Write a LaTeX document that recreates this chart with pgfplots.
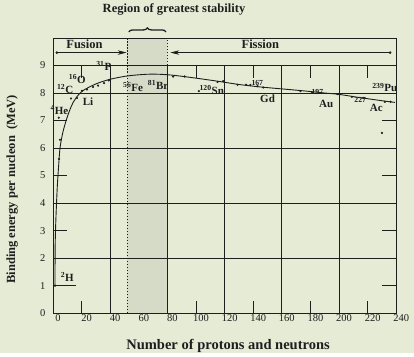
\documentclass[border=0pt]{standalone}
\usepackage{fontspec}
\setmainfont{Liberation Serif}
\usepackage{pgfplots}
\pgfplotsset{compat=1.18}
\usetikzlibrary{arrows.meta,decorations.pathreplacing}
\definecolor{bgc}{RGB}{230,235,214}
\definecolor{shadec}{RGB}{214,219,200}
\definecolor{ink}{RGB}{30,30,30}
\newcommand{\bl}{\bfseries\fontsize{12.5}{13}\selectfont}
\newcommand{\an}{\bfseries\fontsize{11}{12}\selectfont}
\begin{document}
\begin{tikzpicture}
\begin{axis}[
  width=343pt, height=275pt, scale only axis,
  xmin=0, xmax=240, ymin=0, ymax=10,
  clip=false, axis on top,
  axis line style={ink, line width=0.9pt},
  xtick={0,20,...,240}, ytick={0,1,...,9},
  major tick length=0pt,
  tick label style={font=\fontsize{10.5}{11}\selectfont, text=ink},
  /pgf/number format/assume math mode=true,
  xticklabel style={xshift=5pt, yshift=2pt},
  yticklabel style={xshift=-4pt},
]
% background and fixed picture size
\fill[bgc] (axis cs:-37.06,-1.455) rectangle (axis cs:252.4,11.38);
% shaded stability region
\fill[shadec] (axis cs:52,0) rectangle (axis cs:80,10);
% grid lines
\draw[ink, line width=0.8pt]
  (axis cs:0,2) -- (axis cs:240,2)
  (axis cs:0,4) -- (axis cs:240,4)
  (axis cs:0,6) -- (axis cs:240,6)
  (axis cs:0,8) -- (axis cs:240,8)
  (axis cs:0,9) -- (axis cs:240,9)
  (axis cs:40,0) -- (axis cs:40,9)
  (axis cs:80,0) -- (axis cs:80,9)
  (axis cs:120,0) -- (axis cs:120,9)
  (axis cs:160,0) -- (axis cs:160,9)
  (axis cs:200,0) -- (axis cs:200,9);
% short inner ticks
\draw[ink, line width=0.7pt]
  (axis cs:0,1) -- (axis cs:16,1)
  (axis cs:0,3) -- (axis cs:10,3)
  (axis cs:0,5) -- (axis cs:10,5)
  (axis cs:0,7) -- (axis cs:10,7)
  (axis cs:230,1) -- (axis cs:240,1)
  (axis cs:230,3) -- (axis cs:240,3)
  (axis cs:230,5) -- (axis cs:240,5)
  (axis cs:230,7) -- (axis cs:240,7)
  (axis cs:20,0) -- (axis cs:20,0.45)
  (axis cs:100,0) -- (axis cs:100,0.45)
  (axis cs:140,0) -- (axis cs:140,0.45)
  (axis cs:180,0) -- (axis cs:180,0.45)
  (axis cs:220,0) -- (axis cs:220,0.45)
  (axis cs:20,9) -- (axis cs:20,8.55)
  (axis cs:100,9) -- (axis cs:100,8.55)
  (axis cs:140,9) -- (axis cs:140,8.55)
  (axis cs:180,9) -- (axis cs:180,8.55)
  (axis cs:220,9) -- (axis cs:220,8.55);
% dotted boundaries
\draw[ink, line width=1.1pt, dash pattern=on 1.5pt off 1.5pt] (axis cs:52,0) -- (axis cs:52,10);
\draw[ink, line width=1.1pt, dash pattern=on 1.5pt off 1.5pt] (axis cs:80,9) -- (axis cs:80,10);
% binding energy curve
\addplot[ink, line width=0.9pt, smooth, tension=0.5] coordinates {
 (1.4,1.0) (1.5,2.4) (2.0,3.4) (3.0,4.6) (4.0,5.4) (4.9,6.0) (6.8,6.55)
 (9.8,7.1) (14,7.65) (20,8.05) (30,8.33) (40,8.5) (52,8.62) (65,8.68)
 (75,8.68) (85,8.64) (100,8.54) (115,8.43) (130,8.31) (145,8.22)
 (160,8.15) (175,8.08) (190,8.0) (200,7.95) (215,7.83) (230,7.72) (239,7.66)
};
% data points
\addplot[only marks, mark=*, mark size=0.9pt, ink] coordinates {
 (1.4,1.0) (4.2,5.6) (4.9,6.3) (4.0,7.1) (12.6,7.8) (16.8,7.82) (20.3,8.08)
 (23.8,8.13) (28,8.22) (31.5,8.27) (35.7,8.36) (39,8.46) (84,8.6) (92,8.6)
 (102,8.07) (115,8.4) (119,8.43) (129,8.3) (135,8.3) (138,8.29) (143,8.25)
 (147,8.2) (173,8.07) (181,8.03) (199,7.96) (209,7.86) (217,7.82)
 (232,7.68) (236,7.68) (230,6.55)
};
% fusion / fission arrows
\addplot[only marks, mark=*, mark size=1.1pt, ink] coordinates {(2.7,9.47) (235.7,9.47)};
\draw[ink, line width=0.6pt, -{Stealth[length=9pt,width=4.5pt]}] (axis cs:2.7,9.47) -- (axis cs:51.5,9.47);
\draw[ink, line width=0.6pt, -{Stealth[length=9pt,width=4.5pt]}] (axis cs:235.7,9.47) -- (axis cs:82,9.47);
\node[font=\bl, text=ink] at (axis cs:22,9.78) {Fusion};
\node[font=\bl, text=ink] at (axis cs:145,9.78) {Fission};
% title and brace
\node[font=\bl, text=ink] at (axis cs:84.6,11.02) {Region of greatest stability};
\draw[ink, line width=1.3pt, decorate, decoration={brace, amplitude=4pt}] (axis cs:53,10.22) -- (axis cs:79,10.22);
% element labels
\node[font=\an, text=ink, inner sep=0pt] at (axis cs:4.5,7.38) {\textsuperscript{4}He};
\node[font=\an, text=ink, inner sep=0pt] at (axis cs:8.5,8.15) {\textsuperscript{12}C};
\node[font=\an, text=ink, inner sep=0pt] at (axis cs:17,8.52) {\textsuperscript{16}O};
\node[font=\an, text=ink, inner sep=0pt] at (axis cs:24.5,7.68) {Li};
\node[font=\an, text=ink, inner sep=0pt] at (axis cs:35.5,9.0) {\textsuperscript{31}P};
\node[font=\an, text=ink, inner sep=0pt] at (axis cs:56,8.22) {\textsuperscript{56}Fe};
\node[font=\an, text=ink, inner sep=0pt] at (axis cs:73.5,8.3) {\textsuperscript{81}Br};
\node[font=\an, text=ink, inner sep=0pt] at (axis cs:111,8.1) {\textsuperscript{120}Sn};
\node[font=\an, text=ink, inner sep=0pt] at (axis cs:143,8.3) {\textsuperscript{167}};
\node[font=\an, text=ink, inner sep=0pt] at (axis cs:150,7.8) {Gd};
\node[font=\an, text=ink, inner sep=0pt] at (axis cs:185,7.95) {\textsuperscript{197}};
\node[font=\an, text=ink, inner sep=0pt] at (axis cs:191,7.62) {Au};
\node[font=\an, text=ink, inner sep=0pt] at (axis cs:215,7.68) {\textsuperscript{227}};
\node[font=\an, text=ink, inner sep=0pt] at (axis cs:226,7.45) {Ac};
\node[font=\an, text=ink, inner sep=0pt] at (axis cs:232,8.2) {\textsuperscript{239}Pu};
\node[font=\an, text=ink, inner sep=0pt] at (axis cs:10,1.3) {\textsuperscript{2}H};
% axis titles
\node[font=\bfseries\fontsize{14.5}{15}\selectfont, text=ink] at (axis cs:122.4,-1.2) {Number of protons and neutrons};
\node[font=\bl, text=ink, rotate=90] at (axis cs:-28.5,4.5) {Binding energy per nucleon\enspace(MeV)};
\end{axis}
\end{tikzpicture}
\end{document}
